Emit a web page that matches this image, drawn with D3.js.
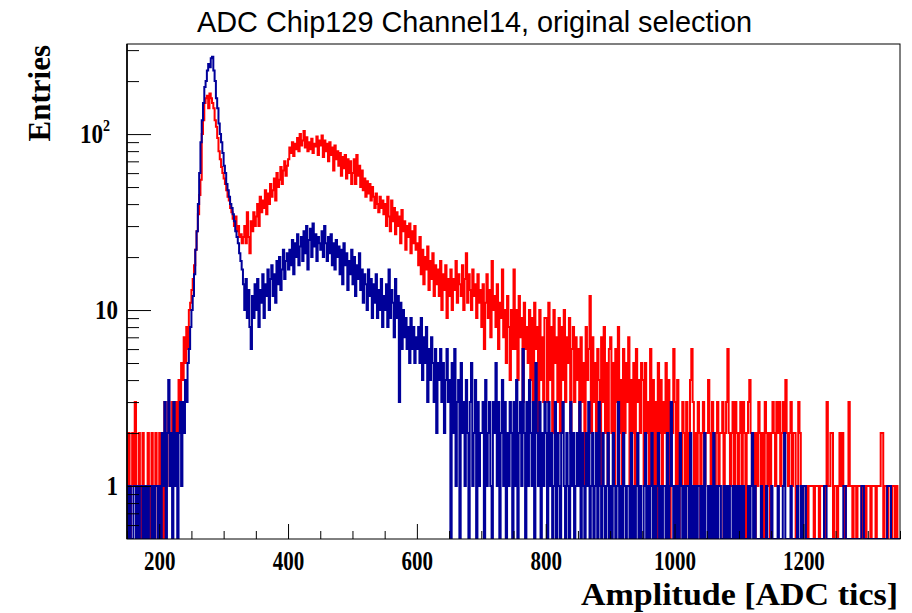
<!DOCTYPE html>
<html><head><meta charset="utf-8">
<script src="https://cdn.jsdelivr.net/npm/d3@7/dist/d3.min.js"></script>
<style>body{margin:0;background:#fff}svg{display:block}</style>
</head><body><svg id="c" width="912" height="613"></svg>
<script>
// ---- data (bins of 2 ADC tics starting at 150) ----
const binStart = 150, binWidth = 2;
const blueCounts = [
1,0,1,0,0,1,1,0,1,0,1,1,0,1,0,1,0,1,1,0,1,0,1,1,0,
1,0,2,1,3,0,2,4,1,2,0,3,1,2,0,2,3,1,3,2,4,3,5,6,8,
10,12,16,22,28,40,60,90,120,150,185,200,230,250,240,270,275,230,200,160,140,115,100,90,78,
66,60,52,48,44,40,38,35,32,28,26,24,21,19,17,14,10,15,9,13,8,6,12,9,14,
10,15,8,13,11,16,9,14,12,17,10,15,18,12,16,11,19,14,20,13,17,22,15,19,21,
17,22,18,25,16,24,20,27,18,23,26,19,28,21,30,17,25,29,20,31,23,27,19,26,24,
22,28,20,30,24,19,26,21,27,18,24,17,25,20,23,16,22,14,24,18,21,13,19,16,22,
14,20,12,18,15,21,13,17,11,16,14,10,17,12,15,9,14,11,16,9,13,10,15,8,12,
10,14,8,17,9,13,11,7,15,9,12,3,11,6,10,7,9,6,8,5,9,6,8,5,7,
6,8,5,9,4,7,5,8,3,6,4,7,5,3,6,2,5,4,6,3,5,2,4,6,3,
4,0,5,2,6,1,3,4,0,5,2,3,1,4,2,0,3,5,1,2,4,0,3,1,2,
2,3,0,4,1,2,3,1,0,3,2,5,1,3,0,2,4,1,3,0,2,1,3,2,0,
3,1,4,0,2,3,1,6,2,0,3,1,4,2,1,3,0,5,2,1,3,0,2,1,3,
2,0,3,1,2,0,1,3,0,2,1,0,2,3,1,0,2,1,0,3,1,2,0,1,2,
1,3,0,2,1,0,2,1,3,0,1,2,0,1,2,0,3,1,0,2,1,0,1,2,0,
1,0,2,1,0,1,3,0,1,0,2,1,0,1,1,0,2,0,1,0,1,2,0,1,0,
0,1,2,0,1,0,1,2,0,1,0,1,2,0,1,0,1,1,0,2,0,1,3,1,0,
1,0,1,0,2,1,0,1,0,1,1,0,2,0,1,0,1,0,1,1,0,1,0,2,0,
0,1,0,1,0,2,0,1,0,1,1,0,0,1,0,1,0,1,0,0,1,0,1,0,1,
0,1,0,1,0,0,0,1,0,1,2,0,1,0,0,0,0,1,0,0,0,1,0,0,0,
1,0,0,0,0,1,0,0,0,1,2,0,0,0,0,1,0,0,0,0,1,0,0,1,0,
1,1,0,0,0,0,0,0,0,0,0,0,0,0,0,0,1,1,0,0,0,0,0,0,0,
0,0,0,0,0,0,1,1,0,0,0,0,0,0,0,0,0,0,0,0,1,1,0,0,0,
0,0,0,0,0,0,0,0,0,0,0,0,0,0,0,1,1,1,0,0,0,0,0,0,0
];
const redCounts = [
1,2,0,1,2,1,3,1,0,2,1,0,2,1,0,1,2,0,1,2,1,0,2,1,1,
2,1,2,0,3,1,2,3,1,2,3,2,1,3,2,4,3,5,4,7,5,8,6,10,11,
13,15,18,22,28,35,45,55,100,120,150,160,165,140,170,160,150,140,120,110,95,80,72,65,60,
56,52,48,44,42,38,36,33,30,34,28,30,26,27,24,26,30,24,36,26,21,32,28,36,30,
34,40,30,44,36,42,38,48,35,46,40,52,44,48,56,42,60,50,55,65,52,62,70,58,66,
72,84,78,90,75,88,82,95,80,100,86,92,104,84,96,80,90,82,94,78,88,85,97,76,92,
86,98,74,92,80,88,70,90,76,84,62,86,72,80,66,78,58,74,64,76,56,72,60,70,52,
60,72,52,76,58,66,50,62,48,56,44,54,46,52,42,50,44,38,46,40,36,44,38,42,35,
40,30,44,34,28,42,32,38,27,36,30,34,24,37,28,32,22,30,26,31,21,28,24,30,22,
24,18,26,16,22,14,20,17,23,13,19,15,21,12,18,14,17,12,19,10,16,13,18,9,15,
12,17,10,15,13,19,11,16,14,12,18,10,15,21,11,16,13,10,17,12,14,9,16,11,13,
8,14,6,11,16,9,13,7,19,10,12,8,14,6,11,9,17,7,10,5,12,8,4,10,6,
17,6,10,4,12,7,9,3,11,6,8,5,10,4,9,3,11,6,8,2,10,4,7,3,9,
9,3,11,4,8,2,10,5,7,3,9,2,8,4,10,3,7,5,9,2,6,8,3,7,4,
6,2,7,3,5,1,8,4,6,12,2,7,3,5,2,6,4,1,7,3,8,2,5,1,6,
7,2,5,1,6,3,8,2,4,1,6,2,5,3,7,1,4,2,5,1,6,3,4,2,5,
4,1,5,2,3,1,6,2,4,1,3,0,5,2,4,1,3,2,5,1,4,0,3,2,6,
3,1,4,0,2,1,3,2,0,3,1,2,4,6,3,1,2,1,3,2,0,2,3,1,2,
2,4,2,1,3,2,0,2,3,1,2,2,3,0,2,3,6,2,1,2,3,1,3,2,0,
2,3,1,3,2,0,2,3,4,2,1,2,0,2,1,3,2,1,2,0,3,2,1,2,0,
2,3,2,1,3,2,3,1,2,3,2,4,2,1,2,3,1,2,2,0,1,3,2,1,0,
1,1,1,0,1,1,1,1,0,1,1,1,0,1,1,1,0,1,3,1,1,2,2,0,1,
1,0,1,2,1,2,1,0,1,1,3,1,1,0,1,1,0,1,1,1,0,1,1,0,1,
1,1,0,1,1,1,0,1,1,1,2,2,0,1,1,0,1,1,0,1,1,0,1,0,0
];
const xMajorTicks = [200, 400, 600, 800, 1000, 1200];
const xMinorTicks = d3.range(150, 1351, 50).filter(v => v % 200 !== 0);
const yMajorTicks = [1, 10, 100];
const yMinorTicks = [0.6,0.7,0.8,0.9,2,3,4,5,6,7,8,9,20,30,40,50,60,70,80,90,200,300];
const titleText = "ADC Chip129 Channel14, original selection";
const xTitle = "Amplitude [ADC tics]";
const yTitle = "Entries";

// ---- layout ----
const F = {l:127, r:900, t:44, b:539};
const svg = d3.select("#c");
svg.append("rect").attr("width",912).attr("height",613).attr("fill","#fff");
const x = d3.scaleLinear().domain([150, 1350]).range([F.l, F.r]);
const y = d3.scaleLog().domain([0.5, 325]).range([F.b, F.t]);

svg.append("defs").append("clipPath").attr("id","fr")
  .append("rect").attr("x",F.l).attr("y",F.t).attr("width",F.r-F.l).attr("height",F.b-F.t);

function stepPath(counts){
  const yv = v => y(Math.max(v, 0.5));
  let p = "M" + x(binStart) + "," + yv(counts[0]);
  counts.forEach((v,i)=>{
    if(i>0) p += "V" + yv(v);
    p += "H" + x(binStart + (i+1)*binWidth);
  });
  return p;
}
const g = svg.append("g").attr("clip-path","url(#fr)");
g.append("path").attr("d", stepPath(redCounts)).attr("fill","none")
  .attr("stroke","#ff0000").attr("stroke-width",2);
g.append("path").attr("d", stepPath(blueCounts)).attr("fill","none")
  .attr("stroke","#000099").attr("stroke-width",2);

// frame
svg.append("rect").attr("x",F.l).attr("y",F.t).attr("width",F.r-F.l).attr("height",F.b-F.t)
  .attr("fill","none").attr("stroke","#000").attr("stroke-width",1);
svg.append("line").attr("x1",F.l).attr("x2",F.l).attr("y1",F.t).attr("y2",F.b)
  .attr("stroke","#000").attr("stroke-width",1.6);

const serif = "'Liberation Serif','Times New Roman',serif";
// x axis
const xa = svg.append("g").attr("transform",`translate(0,${F.b})`);
xa.call(d3.axisBottom(x).tickValues(xMinorTicks).tickSizeInner(-8).tickSizeOuter(0).tickFormat(""));
const xm = svg.append("g").attr("transform",`translate(0,${F.b})`);
xm.call(d3.axisBottom(x).tickValues(xMajorTicks).tickSizeInner(-15).tickSizeOuter(0).tickPadding(10).tickFormat(d3.format("d")));
svg.selectAll(".domain").remove();
xm.selectAll("text").attr("font-family",serif).attr("font-weight","bold").attr("font-size",21)
  .attr("fill","#000").attr("dy","0.71em").attr("transform","scale(1,1.25)");
svg.selectAll(".tick line").attr("stroke","#000");

// y axis
const ya = svg.append("g").attr("transform",`translate(${F.l},0)`);
ya.call(d3.axisLeft(y).tickValues(yMinorTicks).tickSizeInner(-12).tickSizeOuter(0).tickFormat(""));
const ym = svg.append("g").attr("transform",`translate(${F.l},0)`);
ym.call(d3.axisLeft(y).tickValues(yMajorTicks).tickSizeInner(-24).tickSizeOuter(0).tickPadding(9).tickFormat(d=>d===100?"10":String(d)));
ya.select(".domain").remove(); ym.select(".domain").remove();
ym.selectAll(".tick line").attr("stroke","#000");
ya.selectAll(".tick line").attr("stroke","#000");
ym.selectAll("text").attr("font-family",serif).attr("font-weight","bold").attr("font-size",23)
  .attr("fill","#000").attr("transform","scale(1,1.2)");
ym.selectAll(".tick").filter(d=>d===100).select("text")
  .attr("x",-17)
  .append("tspan").attr("font-size",14).attr("dy","-0.75em").text("2");

// titles
svg.append("text").attr("x",197).attr("y",32).attr("font-family","'Liberation Sans',Arial,sans-serif")
  .attr("font-size",30).attr("textLength",555).attr("lengthAdjust","spacingAndGlyphs").attr("fill","#000").text(titleText);
svg.append("text").attr("x",898).attr("y",605).attr("text-anchor","end").attr("font-family",serif)
  .attr("font-weight","bold").attr("font-size",31).attr("textLength",317).attr("lengthAdjust","spacingAndGlyphs")
  .attr("fill","#000").text(xTitle);
svg.append("text").attr("transform","translate(50,45) rotate(-90)").attr("text-anchor","end")
  .attr("font-family",serif).attr("font-weight","bold").attr("font-size",31).attr("fill","#000").text(yTitle);
</script></body></html>
